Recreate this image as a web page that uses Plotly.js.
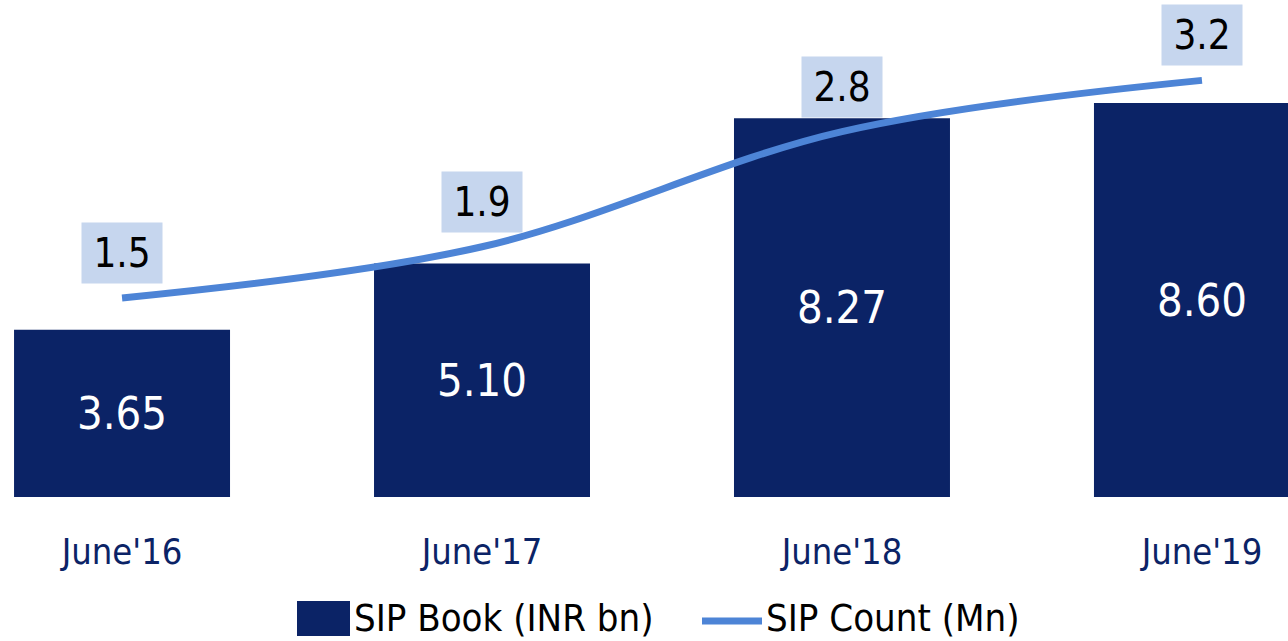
<!DOCTYPE html>
<html>
<head>
<meta charset="utf-8">
<script src="https://cdn.plot.ly/plotly-3.0.1.min.js"></script>
<style>html,body{margin:0;padding:0;background:#fff;}#chart{width:1288px;height:641px;}</style>
</head>
<body>
<div id="chart"></div>
<script>
const categories = ["June'16", "June'17", "June'18", "June'19"];
const sipBook = [3.65, 5.10, 8.27, 8.60];
const sipBookLabels = ["3.65", "5.10", "8.27", "8.60"];
const sipCount = [1.5, 1.9, 2.8, 3.2];
const sipCountLabels = ["1.5", "1.9", "2.8", "3.2"];
const seriesNames = ["SIP Book (INR bn)", "SIP Count (Mn)"];

const FONT = "'Liberation Sans Narrow', 'DejaVu Sans Condensed', Roboto, sans-serif";
const NAVY = "#0b2366";
const LINE = "#4d84d6";
const BOX = "#c6d6ee";

const W = 1288, PLOT_H = 497;
const px2x = p => p / W;
const py2y = p => (PLOT_H - p) / PLOT_H;

const traces = [
  {
    type: 'bar', name: seriesNames[0], x: categories, y: sipBook,
    text: sipBookLabels, textposition: 'inside', insidetextanchor: 'middle',
    textfont: {family: FONT, size: 45, color: '#ffffff'},
    marker: {color: NAVY}, width: 0.6, showlegend: false, hoverinfo: 'skip'
  },
  {
    type: 'scatter', mode: 'lines', name: seriesNames[1], x: categories, y: sipCount,
    yaxis: 'y2', line: {color: LINE, width: 7, shape: 'spline', smoothing: 1},
    showlegend: false, hoverinfo: 'skip'
  }
];

const annotations = categories.map((c, i) => ({
  x: c, y: sipCount[i], xref: 'x', yref: 'y2', yshift: 45,
  text: sipCountLabels[i], showarrow: false,
  font: {family: FONT, size: 40, color: '#000000'},
  bgcolor: BOX, width: 78, height: 58, align: 'center', valign: 'middle'
}));

// legend (drawn manually)
annotations.push({
  x: px2x(352), y: py2y(618), xref: 'paper', yref: 'paper', xanchor: 'left', yanchor: 'middle',
  text: seriesNames[0], showarrow: false, font: {family: FONT, size: 38, color: '#000000'}
});
annotations.push({
  x: px2x(764), y: py2y(618), xref: 'paper', yref: 'paper', xanchor: 'left', yanchor: 'middle',
  text: seriesNames[1], showarrow: false, font: {family: FONT, size: 38, color: '#000000'}
});
const shapes = [
  {type: 'rect', xref: 'paper', yref: 'paper', x0: px2x(297), x1: px2x(350), y0: py2y(601), y1: py2y(636),
   fillcolor: NAVY, line: {width: 0}},
  {type: 'line', xref: 'paper', yref: 'paper', x0: px2x(702), x1: px2x(762), y0: py2y(621), y1: py2y(621),
   line: {color: LINE, width: 7}}
];

const layout = {
  width: 1288, height: 641,
  margin: {l: 0, r: 0, t: 0, b: 144, pad: 0},
  paper_bgcolor: '#ffffff', plot_bgcolor: '#ffffff',
  showlegend: false,
  xaxis: {
    type: 'category', range: [-0.339, 3.239], showgrid: false, zeroline: false, showline: false,
    ticks: '', tickfont: {family: FONT, size: 36, color: NAVY}, ticklabelstandoff: 30, fixedrange: true
  },
  yaxis: {range: [0, 10.85], visible: false, showgrid: false, zeroline: false},
  yaxis2: {range: [-0.055, 3.828], overlaying: 'y', visible: false, showgrid: false, zeroline: false},
  annotations: annotations,
  shapes: shapes
};

Plotly.newPlot('chart', traces, layout, {staticPlot: true, displayModeBar: false});
</script>
</body>
</html>
